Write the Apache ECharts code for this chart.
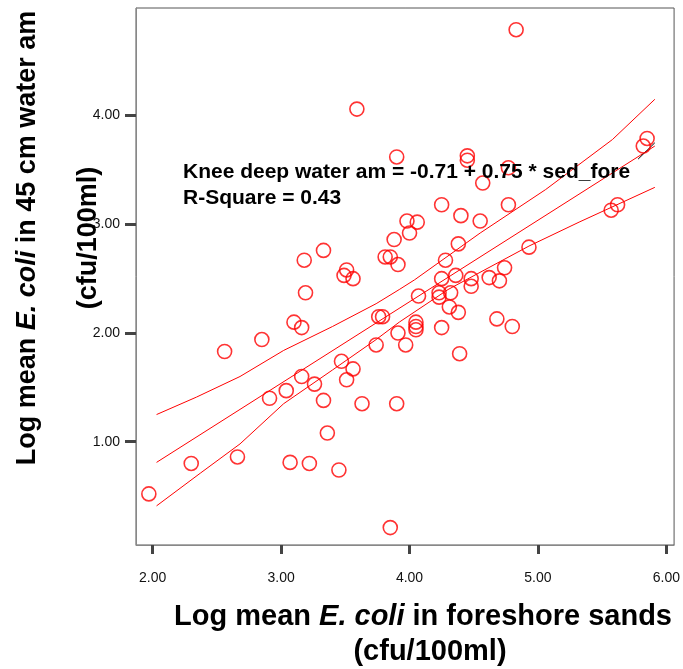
<!DOCTYPE html>
<html style="width:100%;height:100%;">
<head>
<meta charset="UTF-8">
<title>E. coli scatter</title>
<script src="https://cdn.jsdelivr.net/npm/echarts@6/dist/echarts.min.js"></script>
</head>
<body style="width:100%;height:100%;margin:0;padding:0;background:#fff;">
<div id="chart" style="width:683px;height:669px;"></div>
<script>
// foreshore sand (x) vs knee-deep water am (y), log mean E. coli
var sandX = [1.97, 2.30, 2.66, 2.56, 2.85, 2.91, 3.04, 3.07, 3.10, 3.16,
	3.16, 3.18, 3.19, 3.22, 3.26, 3.33, 3.33, 3.36, 3.45, 3.47,
	3.51, 3.49, 3.56, 3.51, 3.56, 3.59, 3.63, 3.74, 3.76, 3.79,
	3.81, 3.85, 3.85, 3.88, 3.90, 3.91, 3.91, 3.90, 3.97, 3.98,
	4.00, 4.06, 4.07, 4.05, 4.05, 4.05, 4.25, 4.28, 4.25, 4.23,
	4.23, 4.25, 4.32, 4.31, 4.36, 4.38, 4.38, 4.39, 4.40, 4.45,
	4.45, 4.48, 4.48, 4.55, 4.57, 4.62, 4.68, 4.70, 4.74, 4.77,
	4.77, 4.80, 4.83, 4.93, 5.57, 5.62, 5.82, 5.85];
var waterY = [0.52, 0.80, 0.86, 1.83, 1.94, 1.40, 1.47, 0.81, 2.10, 2.05,
	1.60, 2.67, 2.37, 0.80, 1.53, 2.76, 1.38, 1.08, 0.74, 1.74,
	2.58, 2.53, 2.50, 1.57, 1.67, 4.06, 1.35, 1.89, 2.15, 2.15,
	2.70, 2.70, 0.21, 2.86, 3.62, 2.63, 2.00, 1.35, 1.89, 3.03,
	2.92, 3.02, 2.34, 2.10, 2.06, 2.03, 3.18, 2.67, 2.50, 2.37,
	2.33, 2.05, 2.37, 2.24, 2.53, 2.19, 2.82, 1.81, 3.08, 3.63,
	3.59, 2.50, 2.43, 3.03, 3.38, 2.51, 2.13, 2.48, 2.60, 3.52,
	3.18, 2.06, 4.79, 2.79, 3.13, 3.18, 3.72, 3.79];

// fit line and 95% mean confidence bands
var fitLine = [[2.03, 0.81], [5.91, 3.72]];
var upperBand = [[2.03, 1.25], [2.34, 1.41], [2.68, 1.60], [3.02, 1.84], [3.40, 2.06],
	[3.74, 2.27], [3.92, 2.40], [4.04, 2.49], [4.55, 2.92], [5.06, 3.32], [5.58, 3.78], [5.91, 4.15]];
var lowerBand = [[2.03, 0.41], [2.37, 0.71], [2.68, 0.98], [3.02, 1.35], [3.40, 1.66],
	[3.74, 1.94], [3.92, 2.10], [4.30, 2.40], [4.93, 2.80], [5.32, 3.02], [5.91, 3.34]];
var markLine = [[5.78, 3.60], [5.91, 3.75]];

var xTicks = [2, 3, 4, 5, 6];
var yTicks = [1, 2, 3, 4];

var points = sandX.map(function (x, i) { return [x, waterY[i]]; });

var fontSans = '"Liberation Sans", Arial, sans-serif';

var myChart = echarts.init(document.getElementById('chart'));
var option = {
	animation: false,
	grid: { left: 136, right: 8, top: 8, bottom: 124, show: true, borderColor: '#555', borderWidth: 1 },
	xAxis: {
		type: 'value', min: 1.87, max: 6.06,
		axisLine: { lineStyle: { color: '#888', width: 1 } },
		axisTick: { show: true, customValues: xTicks, length: 9, lineStyle: { color: '#444', width: 3 } },
		axisLabel: { customValues: xTicks, margin: 26, color: '#111', fontSize: 14, fontFamily: fontSans,
			formatter: function (v) { return v.toFixed(2); } },
		splitLine: { show: false }
	},
	yAxis: {
		type: 'value', min: 0.05, max: 4.99,
		axisLine: { show: true, lineStyle: { color: '#888', width: 1 } },
		axisTick: { show: true, customValues: yTicks, length: 11, lineStyle: { color: '#444', width: 3 } },
		axisLabel: { customValues: yTicks, margin: 16, color: '#111', fontSize: 14, fontFamily: fontSans,
			formatter: function (v) { return v.toFixed(2); } },
		splitLine: { show: false }
	},
	series: [
		{ type: 'line', data: upperBand, symbol: 'none', lineStyle: { color: '#f00', width: 1 }, z: 2 },
		{ type: 'line', data: fitLine, symbol: 'none', lineStyle: { color: '#f00', width: 1 }, z: 2 },
		{ type: 'line', data: lowerBand, symbol: 'none', lineStyle: { color: '#f00', width: 1 }, z: 2 },
		{ type: 'line', data: markLine, symbol: 'none', lineStyle: { color: '#000', width: 1 }, z: 2 },
		{
			type: 'scatter', data: points, symbol: 'circle', symbolSize: 14, z: 3,
			itemStyle: { color: 'rgba(0,0,0,0)', borderColor: '#f00', borderWidth: 1.6 }
		}
	],
	graphic: [
		{
			type: 'text', left: 183, top: 159, z: 10,
			style: { text: 'Knee deep water am = -0.71 + 0.75 * sed_fore\nR-Square = 0.43',
				font: 'bold 21px ' + fontSans, fill: '#000', lineHeight: 26 }
		},
		{
			type: 'text', x: 423, y: 617, z: 10,
			style: { text: '{b|Log mean }{i|E. coli}{b| in foreshore sands}',
				align: 'center', verticalAlign: 'middle',
				rich: {
					b: { font: 'bold 29px ' + fontSans, fill: '#000' },
					i: { font: 'italic bold 29px ' + fontSans, fill: '#000' }
				} }
		},
		{
			type: 'text', x: 430, y: 652, z: 10,
			style: { text: '(cfu/100ml)', align: 'center', verticalAlign: 'middle',
				font: 'bold 29px ' + fontSans, fill: '#000' }
		},
		{
			type: 'text', x: 28, y: 238, rotation: Math.PI / 2, z: 10,
			style: { text: '{b|Log mean }{i|E. coli}{b| in 45 cm water am}',
				align: 'center', verticalAlign: 'middle',
				rich: {
					b: { font: 'bold 27px ' + fontSans, fill: '#000' },
					i: { font: 'italic bold 27px ' + fontSans, fill: '#000' }
				} }
		},
		{
			type: 'text', x: 89, y: 238, rotation: Math.PI / 2, z: 10,
			style: { text: '(cfu/100ml)', align: 'center', verticalAlign: 'middle',
				font: 'bold 27px ' + fontSans, fill: '#000' }
		}
	]
};
myChart.setOption(option);
</script>
</body>
</html>
